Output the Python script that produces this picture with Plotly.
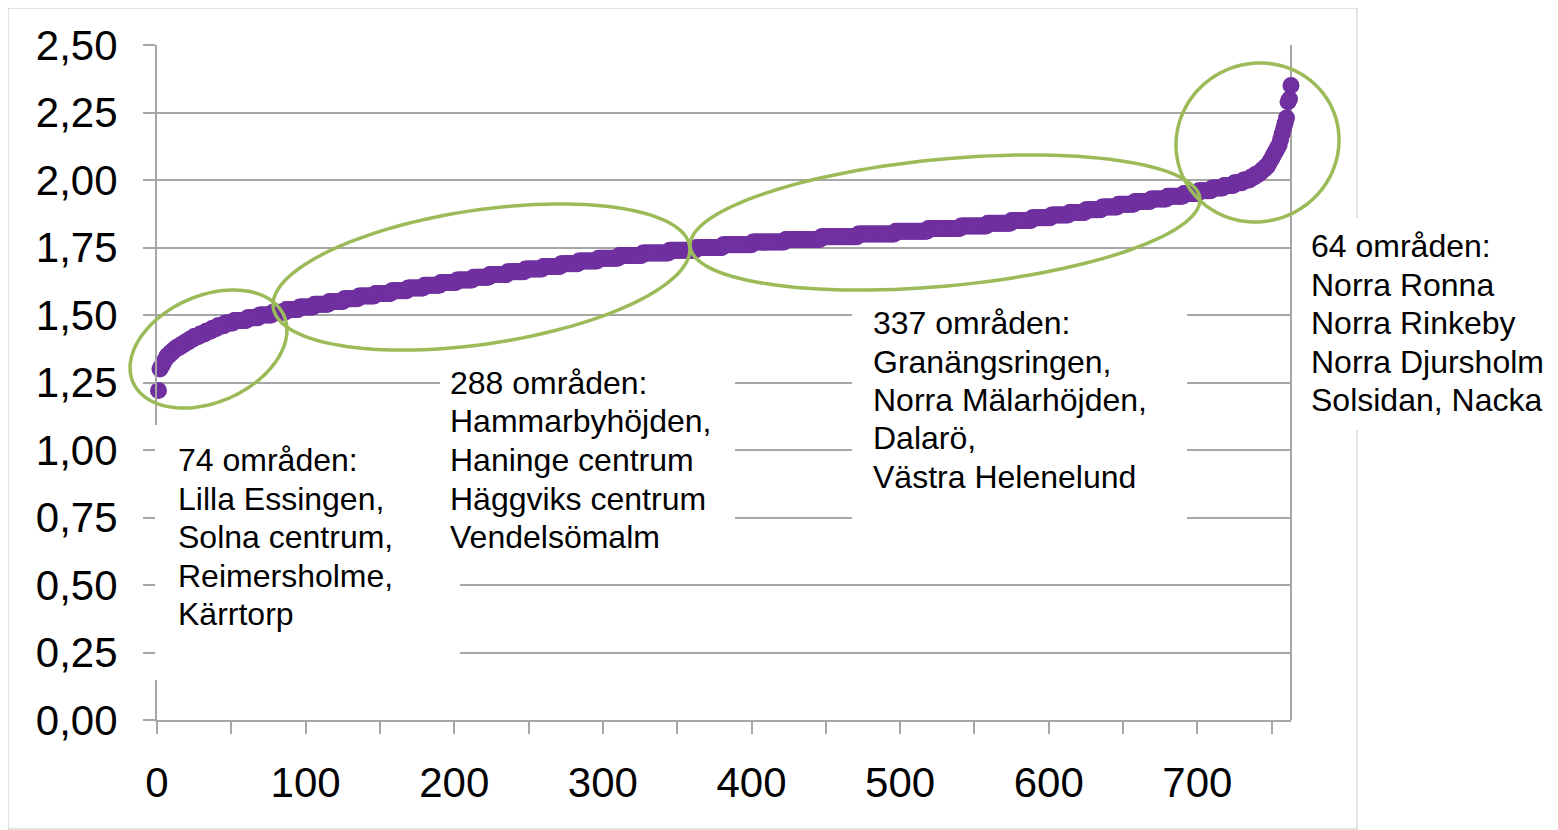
import numpy as np
import plotly.graph_objects as go

# ---------------------------------------------------------------------------
# Données : valeurs (paliers de 0,01) et nombre d'aires
# ---------------------------------------------------------------------------
VALEURS = [1.22, 1.30, 1.31, 1.32, 1.33, 1.34, 1.35, 1.36, 1.37, 1.38, 1.39, 1.40,
           1.41, 1.42, 1.43, 1.44, 1.45, 1.46, 1.47, 1.48, 1.49, 1.50,
           1.51, 1.52, 1.53, 1.54, 1.55, 1.56, 1.57, 1.58, 1.59, 1.60,
           1.61, 1.62, 1.63, 1.64, 1.65, 1.66, 1.67, 1.68, 1.69, 1.70,
           1.71, 1.72, 1.73, 1.74, 1.75, 1.76, 1.77, 1.78, 1.79, 1.80,
           1.81, 1.82, 1.83, 1.84, 1.85, 1.86, 1.87, 1.88, 1.89, 1.90,
           1.91, 1.92, 1.93, 1.94, 1.95, 1.96, 1.97, 1.98, 1.99, 2.00,
           2.01, 2.02, 2.03, 2.04, 2.05, 2.06, 2.07, 2.08, 2.09, 2.10,
           2.11, 2.12, 2.13, 2.15, 2.17, 2.19, 2.21, 2.23, 2.29, 2.30, 2.35]
NOMBRE = [1, 1, 1, 1, 1, 1, 2, 2, 2, 3, 3, 3,
          3, 4, 4, 4, 4, 5, 6, 9, 8, 9,
          9, 9, 10, 10, 10, 10, 11, 11, 11, 11,
          11, 11, 11, 11, 12, 12, 12, 12, 12, 13,
          14, 16, 18, 18, 18, 20, 22, 24, 25, 25,
          22, 22, 18, 16, 14, 13, 12, 11, 11, 11,
          11, 11, 11, 11, 10, 9, 8, 7, 6, 5,
          3, 3, 2, 2, 2, 1, 1, 1, 1, 1,
          1, 1, 1, 1, 1, 1, 1, 1, 1, 1, 1]

X_TICKS = [0, 100, 200, 300, 400, 500, 600, 700]
Y_TICKS = [0, 0.25, 0.5, 0.75, 1.0, 1.25, 1.5, 1.75, 2.0, 2.25, 2.5]

TEXTE_1 = ["74 områden:", "Lilla Essingen,", "Solna centrum,", "Reimersholme,", "Kärrtorp"]
TEXTE_2 = ["288 områden:", "Hammarbyhöjden,", "Haninge centrum", "Häggviks centrum", "Vendelsömalm"]
TEXTE_3 = ["337 områden:", "Granängsringen,", "Norra Mälarhöjden,", "Dalarö,", "Västra Helenelund"]
TEXTE_4 = ["64 områden:", "Norra Ronna", "Norra Rinkeby", "Norra Djursholm", "Solsidan, Nacka"]

y = np.repeat(VALEURS, NOMBRE)
x = np.arange(1, len(y) + 1)

VIOLET = "#7030A0"
VERT = "#9BBB59"
GRIS = "#A6A6A6"
POLICE = "Liberation Sans, Arial, sans-serif"

# zone de tracé en pixels (coordonnées de l'image ; la page ajoute 8 px de marge)
G, D, H_, B_ = 157, 1291, 45, 720
DECAL = 8

def px(p):
    return (p - G) / (D - G)

def py(p):
    return (B_ - p) / (B_ - H_)

def ellipse(cx, cy, a, b, angle):
    t = np.linspace(0, 2 * np.pi, 120)
    th = np.radians(angle)
    ex = cx + a * np.cos(t) * np.cos(th) - b * np.sin(t) * np.sin(th)
    ey = cy - (a * np.cos(t) * np.sin(th) + b * np.sin(t) * np.cos(th))
    pts = [f"{px(u):.5f},{py(v):.5f}" for u, v in zip(ex, ey)]
    return "M " + " L ".join(pts) + " Z"

fig = go.Figure()
fig.add_trace(go.Scatter(x=x, y=y, mode="markers",
                         marker=dict(size=17, color=VIOLET, line=dict(width=0)),
                         showlegend=False, cliponaxis=False))

shapes = [
    # cadre extérieur du graphique
    dict(type="rect", xref="paper", yref="paper", x0=px(8), x1=px(1357), y0=py(829), y1=py(8),
         line=dict(color="#D9D9D9", width=1.5), layer="below"),
    # bord droit de la zone de tracé
    dict(type="line", xref="paper", yref="paper", x0=1, x1=1, y0=0, y1=1,
         line=dict(color=GRIS, width=2), layer="below"),
]
# encadrés blancs des textes
for x0, x1, y0, y1 in [(155, 460, 425, 680), (440, 735, 355, 570),
                       (852, 1187, 300, 540), (1293, 1548, 218, 430)]:
    shapes.append(dict(type="rect", xref="paper", yref="paper", x0=px(x0), x1=px(x1),
                       y0=py(y1), y1=py(y0), fillcolor="white", line=dict(width=0),
                       layer="above"))
# ellipses vertes
for cx, cy, a, b, ang in [(208.5, 349, 82.5, 53.2, 23.9), (481.5, 277, 210.5, 67, 8.4),
                          (945, 222.5, 256, 63.4, 5.4), (1257.5, 142.5, 82.1, 78.9, 25.6)]:
    shapes.append(dict(type="path", xref="paper", yref="paper", path=ellipse(cx, cy, a, b, ang),
                       line=dict(color=VERT, width=3.5), layer="above"))

annots = []
for texte, x0, y0 in [(TEXTE_1, 176, 460), (TEXTE_2, 448, 383),
                      (TEXTE_3, 871, 323), (TEXTE_4, 1309, 246)]:
    for k, ligne in enumerate(texte):
        annots.append(dict(text=ligne, xref="paper", yref="paper", x=px(x0), y=py(y0 + 38.5 * k),
                           xanchor="left", yanchor="middle", showarrow=False,
                           font=dict(family=POLICE, size=32, color="black")))

fig.update_layout(
    width=1558, height=830,
    margin=dict(l=G - DECAL, r=1558 - D + DECAL, t=H_ - DECAL, b=830 - B_ + DECAL),
    paper_bgcolor="white", plot_bgcolor="white",
    separators=", ",
    font=dict(family=POLICE, color="black"),
    shapes=shapes, annotations=annots,
)
fig.update_xaxes(range=[0, 763], tickvals=X_TICKS, ticks="outside", ticklen=12, tickwidth=2,
                 tickcolor=GRIS, showgrid=False, showline=True, linecolor=GRIS, linewidth=2,
                 zeroline=False, tickfont=dict(size=42), ticklabelstandoff=13,
                 minor=dict(dtick=50, tick0=0, ticks="outside", ticklen=12, tickwidth=2,
                            tickcolor=GRIS, showgrid=False))
fig.update_yaxes(range=[0, 2.5], tickvals=Y_TICKS, tickformat=".2f", ticks="outside", ticklen=12,
                 tickwidth=2, tickcolor=GRIS, showgrid=True, gridcolor=GRIS, gridwidth=2,
                 showline=True, linecolor=GRIS, linewidth=2, zeroline=False,
                 tickfont=dict(size=42), ticklabelstandoff=17)

fig.write_html("out.html")
